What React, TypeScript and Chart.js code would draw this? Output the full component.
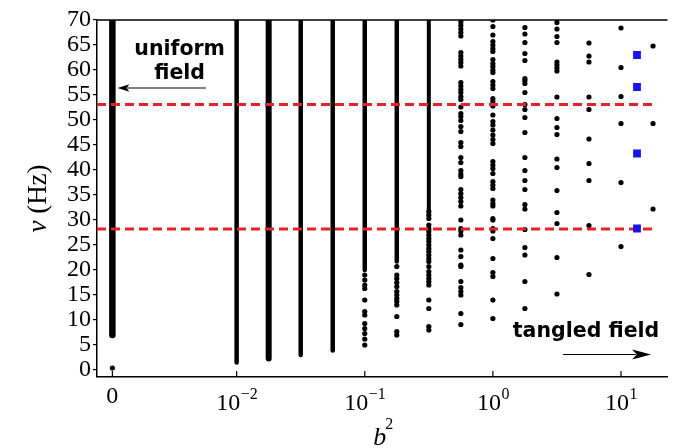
import React, { useEffect, useRef } from "react";
import { Chart, registerables } from "chart.js";

Chart.register(...registerables);

// ---------- axis definitions (x holds log10(b^2); b^2 = 0 is shown at ZERO_POS) ----------
const ZERO_POS = -2.97;
const X_MIN = -3.09;
const X_MAX = 1.363;
const Y_MIN = -1.4;
const Y_MAX = 70;
const xTickValues = [ZERO_POS, -2, -1, 0, 1];
const xTickBase = ["0", "10", "10", "10", "10"];
const xTickExp = ["", "\u22122", "\u22121", "0", "1"];
const yTickValues = [0, 5, 10, 15, 20, 25, 30, 35, 40, 45, 50, 55, 60, 65, 70];

// ---------- dense (quasi-continuous) columns: from min up to max ----------
const denseX = [ZERO_POS, -2, -1.75, -1.5, -1.25, -1, -0.75, -0.5];
const denseMin = [7.0, 1.5, 2.3, 3.0, 3.9, 20.0, 21.7, 32.0];
const denseMax = [70, 70, 70, 70, 70, 70, 70, 70];
const denseWidths = [6.5, 4.5, 6, 4.5, 4.5, 4.5, 4.5, 4];

// ---------- individual eigenfrequencies per column ----------
const colZeroX = ZERO_POS;
const colZero = [0.4];
const colM100X = -1;
const colM100 = [19, 18, 17, 16.3, 14, 11.7, 11, 9.3, 8.3, 7.3, 6.2, 5];
const colM075X = -0.75;
const colM075 = [20.7, 19, 18.3, 17.5, 16.7, 15.7, 15, 14.3, 13.7, 13, 10.7, 7.7, 7];
const colM050X = -0.5;
const colM050 = [31.7, 31, 30.3, 29, 28.3, 27.7, 27, 26.3, 25.7, 25, 24.3, 23.7, 23, 22.3, 21.7, 20.7, 19.7, 19, 18.3, 17.7, 17, 14, 12.3, 8.7, 8];
const colM025X = -0.25;
const colM025 = [69.6, 68.9, 68.2, 67.5, 66.8, 63.5, 62.8, 62.1, 61.5, 60.8, 57.5, 56.8, 56.1, 55.5, 54.7, 54.1, 52.6, 51.3, 50.7, 49.9, 48.7, 47.7, 45.5, 44.7, 42.5, 41.5, 39.9, 39.2, 38.7, 36.1, 35.3, 34.5, 33.7, 32.8, 30, 28.3, 27.8, 27, 24, 22.7, 21, 20.7, 17.7, 16.5, 15.7, 15, 11.3, 9.1];
const colP000X = 0;
const colP000 = [70, 68.7, 67, 65.7, 65, 64.3, 63.7, 62.1, 61.3, 60.7, 60, 59.5, 57.7, 57, 56.3, 54.3, 53.7, 52.8, 51, 49.7, 49, 48, 47, 46.1, 45.3, 41.7, 41, 40.3, 39.3, 37.7, 37, 36.3, 34, 33.3, 32.8, 30.3, 30, 28.3, 27.8, 26.3, 22.3, 19.5, 18.7, 14, 10.3];
const colP025X = 0.25;
const colP025 = [68.5, 67.2, 65.5, 63.3, 61.9, 58.3, 57.9, 57.3, 55.5, 53.1, 52.1, 50.5, 47.5, 42.5, 39.9, 37.9, 36.1, 33.1, 32.2, 28.1, 24.5, 23, 17.7, 12.3];
const colP050X = 0.5;
const colP050 = [69.5, 68.2, 66.7, 65.5, 61.6, 61, 60.4, 59.8, 54.6, 50.3, 48.5, 47.1, 42.2, 40.5, 35.9, 31.5, 29.3, 22.5, 15.2];
const colP075X = 0.75;
const colP075 = [65.4, 62.8, 61.6, 54.6, 52.1, 46.2, 41.3, 37.9, 28.9, 19.1];
const colP100X = 1;
const colP100 = [68.4, 60.5, 54.7, 49.3, 37.5, 24.7];
const colP125X = 1.25;
const colP125 = [64.8, 49.3, 32.2];

// blue squares
const blueX = 1.125;
const blueValues = [63, 56.6, 43.3, 28.3];

// red dashed reference levels
const redLevels = [53.1, 28.2];
const redSpan = [-3.09, 1.26];

// annotations (data units)
const uniformLines = ["uniform", "field"];
const uniformTextX = -2.445;
const uniformTextY = [63, 58.2];
const uniformArrow = { x1: -2.24, x2: -2.93, y: 56.4 };
const tangledText = "tangled field";
const tangledTextX = 0.727;
const tangledTextY = 6.66;
const tangledArrow = { x1: 0.548, x2: 1.235, y: 3.1 };

const SERIF = '"Liberation Serif", "Times New Roman", "DejaVu Serif", serif';
const SANS = '"DejaVu Sans", "Liberation Sans", sans-serif';

function column(x: number, values: number[]) {
  return values.map((v) => ({ x, y: v }));
}

function drawArrow(ctx: CanvasRenderingContext2D, x1: number, x2: number, y: number, headLen: number, headHalf: number, lw: number) {
  const dir = Math.sign(x2 - x1);
  ctx.beginPath();
  ctx.lineWidth = lw;
  ctx.moveTo(x1, y);
  ctx.lineTo(x2 - dir * headLen * 0.8, y);
  ctx.stroke();
  ctx.beginPath();
  ctx.moveTo(x2, y);
  ctx.lineTo(x2 - dir * headLen, y - headHalf);
  ctx.lineTo(x2 - dir * headLen * 0.75, y);
  ctx.lineTo(x2 - dir * headLen, y + headHalf);
  ctx.closePath();
  ctx.fill();
}

const decorPlugin = {
  id: "decor",
  afterDraw(chart: any) {
    const { ctx, chartArea, scales } = chart;
    const xs = scales.x;
    const ys = scales.y;
    ctx.save();
    ctx.strokeStyle = "#000";
    ctx.fillStyle = "#000";
    // top frame line
    ctx.lineWidth = 1.5;
    ctx.beginPath();
    ctx.moveTo(chartArea.left, chartArea.top);
    ctx.lineTo(chartArea.right, chartArea.top);
    ctx.stroke();
    // inward x ticks and labels
    ctx.lineWidth = 1.2;
    xTickValues.forEach((v, i) => {
      const px = xs.getPixelForValue(v);
      ctx.beginPath();
      ctx.moveTo(px, chartArea.bottom);
      ctx.lineTo(px, chartArea.bottom - 6);
      ctx.stroke();
      const base = xTickBase[i];
      const exp = xTickExp[i];
      ctx.textAlign = "left";
      ctx.textBaseline = "alphabetic";
      ctx.font = `24px ${SERIF}`;
      const wb = ctx.measureText(base).width;
      if (!exp) {
        ctx.fillText(base, px - wb / 2, chartArea.bottom + 26);
      } else {
        ctx.font = `16px ${SERIF}`;
        const we = ctx.measureText(exp).width;
        const start = px - (wb + we) / 2;
        ctx.font = `24px ${SERIF}`;
        ctx.fillText(base, start, chartArea.bottom + 33);
        ctx.font = `16px ${SERIF}`;
        ctx.fillText(exp, start + wb + 0.5, chartArea.bottom + 22);
      }
    });
    // x axis title b^2
    {
      const cx = xs.getPixelForValue(-1) + 19;
      ctx.font = `italic 26px ${SERIF}`;
      const wb = ctx.measureText("b").width;
      ctx.font = `16px ${SERIF}`;
      const we = ctx.measureText("2").width;
      const start = cx - (wb + we) / 2;
      ctx.font = `italic 26px ${SERIF}`;
      ctx.fillText("b", start, chartArea.bottom + 68);
      ctx.font = `16px ${SERIF}`;
      ctx.fillText("2", start + wb - 1, chartArea.bottom + 52);
    }
    // y axis title  ν (Hz)
    {
      ctx.save();
      ctx.translate(46, ys.getPixelForValue(34.3));
      ctx.rotate(-Math.PI / 2);
      ctx.font = `italic 27px ${SERIF}`;
      const w1 = ctx.measureText("\u03bd").width;
      ctx.font = `27px ${SERIF}`;
      const w2 = ctx.measureText(" (Hz)").width;
      const start = -(w1 + w2) / 2;
      ctx.font = `italic 27px ${SERIF}`;
      ctx.fillText("\u03bd", start, 0);
      ctx.font = `27px ${SERIF}`;
      ctx.fillText(" (Hz)", start + w1, 0);
      ctx.restore();
    }
    // annotations
    ctx.font = `bold 20.5px ${SANS}`;
    ctx.textAlign = "center";
    uniformLines.forEach((t, i) => {
      ctx.fillText(t, xs.getPixelForValue(uniformTextX), ys.getPixelForValue(uniformTextY[i]));
    });
    ctx.fillText(tangledText, xs.getPixelForValue(tangledTextX), ys.getPixelForValue(tangledTextY));
    drawArrow(ctx, xs.getPixelForValue(uniformArrow.x1), xs.getPixelForValue(uniformArrow.x2), ys.getPixelForValue(uniformArrow.y), 12, 3.8, 1.2);
    drawArrow(ctx, xs.getPixelForValue(tangledArrow.x1), xs.getPixelForValue(tangledArrow.x2), ys.getPixelForValue(tangledArrow.y), 19, 5, 1.2);
    ctx.restore();
  },
};

export default function App() {
  const ref = useRef<HTMLCanvasElement | null>(null);
  useEffect(() => {
    document.body.style.margin = "0";
    const canvas = ref.current;
    if (!canvas) return;

    const datasets: any[] = [];
    datasets.push({
      label: "modes",
      data: column(blueX, blueValues),
      pointStyle: "rect",
      pointRadius: 5.5,
      backgroundColor: "#1414e6",
      borderColor: "#1414e6",
      borderWidth: 0,
    });
    redLevels.forEach((lvl) => {
      datasets.push({
        data: [
          { x: redSpan[0], y: lvl },
          { x: redSpan[1], y: lvl },
        ],
        showLine: true,
        borderColor: "#e3232a",
        borderWidth: 3,
        borderDash: [9, 5],
        pointRadius: 0,
      });
    });
    const cols: [number, number[]][] = [
      [colZeroX, colZero],
      [colM100X, colM100],
      [colM075X, colM075],
      [colM050X, colM050],
      [colM025X, colM025],
      [colP000X, colP000],
      [colP025X, colP025],
      [colP050X, colP050],
      [colP075X, colP075],
      [colP100X, colP100],
      [colP125X, colP125],
    ];
    cols.forEach(([x, vals]) => {
      datasets.push({
        data: column(x, vals),
        pointRadius: 2.6,
        backgroundColor: "#000",
        borderWidth: 0,
      });
    });
    denseX.forEach((x, i) => {
      datasets.push({
        data: [
          { x, y: denseMin[i] },
          { x, y: denseMax[i] },
        ],
        showLine: true,
        borderColor: "#000",
        borderWidth: denseWidths[i],
        borderCapStyle: "round",
        pointRadius: 0,
      });
    });

    const chart = new Chart(canvas, {
      type: "scatter",
      data: { datasets },
      options: {
        animation: false,
        responsive: false,
        events: [],
        layout: { padding: { top: 20, left: 0, right: 0, bottom: 0 } },
        plugins: { legend: { display: false }, tooltip: { enabled: false } },
        scales: {
          x: {
            type: "linear",
            min: X_MIN,
            max: X_MAX,
            afterBuildTicks: (s: any) => {
              s.ticks = xTickValues.map((v) => ({ value: v }));
            },
            afterFit: (s: any) => {
              s.height = 71;
            },
            ticks: { display: false },
            grid: { display: true, drawOnChartArea: false, drawTicks: false, color: "#000" },
            border: { display: true, color: "#000", width: 1.5 },
          },
          y: {
            type: "linear",
            min: Y_MIN,
            max: Y_MAX,
            afterBuildTicks: (s: any) => {
              s.ticks = yTickValues.map((v) => ({ value: v }));
            },
            afterFit: (s: any) => {
              s.width = 97;
            },
            ticks: {
              color: "#000",
              padding: 2,
              autoSkip: false,
              font: { family: SERIF, size: 24 },
              callback: (v: any) => String(v),
            },
            grid: { display: true, drawOnChartArea: false, drawTicks: true, tickLength: 4, color: "#000", lineWidth: 1.2 },
            border: { display: true, color: "#000", width: 1.5 },
          },
        },
      },
      plugins: [decorPlugin],
    });
    return () => chart.destroy();
  }, []);

  return (
    <div style={{ width: 673, height: 448, background: "#fff" }}>
      <canvas ref={ref} width={673} height={448} style={{ display: "block" }} />
    </div>
  );
}
